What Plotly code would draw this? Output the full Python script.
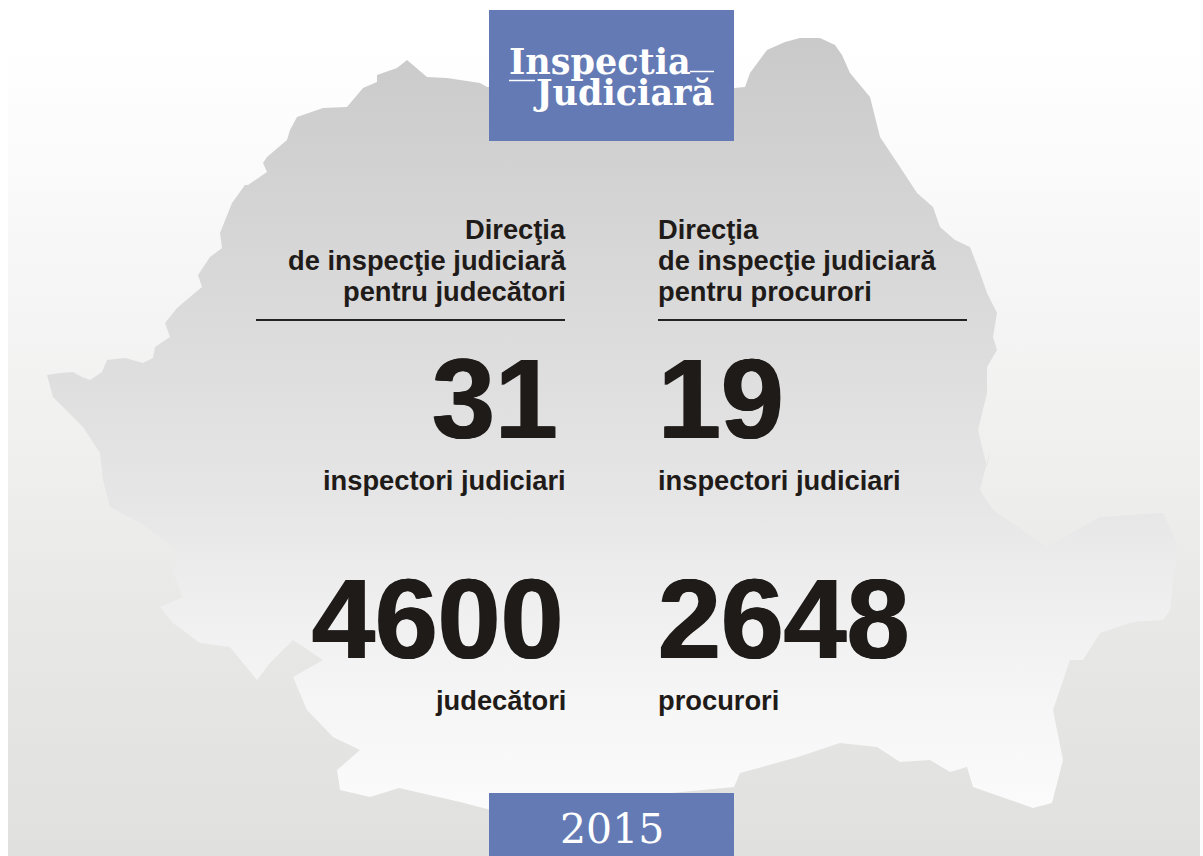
import plotly.graph_objects as go

W, H = 1203, 856

# Values and labels
left_title = ["Direcţia", "de inspecţie judiciară", "pentru judecători"]
right_title = ["Direcţia", "de inspecţie judiciară", "pentru procurori"]
inspector_values = ["31", "19"]
staff_values = ["4600", "2648"]
inspector_label = "inspectori judiciari"
staff_labels = ["judecători", "procurori"]
logo_lines = ["Inspectia", "Judiciară"]
year = "2015"

# Silhouette outline (clockwise from the western tip)
map_x = [47, 60, 73, 82, 90, 102, 107, 125, 143, 153, 155, 170, 165, 177, 190, 202, 198, 210, 222, 220, 232, 245,
         248, 267, 263, 267, 287, 290, 297, 317, 323, 347, 363, 377, 377, 397, 407, 427, 447, 480, 487,
         734, 745, 750, 767, 785, 800, 820, 835, 842, 850, 870, 877, 880, 900, 917, 933, 940, 955, 970, 980, 987, 997, 993, 997, 987, 987,
         978, 987, 990, 980, 993, 1047, 1100, 1163, 1177, 1170, 1163, 1133, 1100, 1083, 1070, 1053, 1057, 1063, 1052,
         1033, 973, 967, 950, 930, 900, 877, 840, 798, 740, 734,
         491, 460, 399, 370, 340, 337, 360, 333, 307, 293, 323, 293, 270, 257, 243, 230, 200, 173, 160, 183, 173, 177,
         140, 110, 103, 100, 83, 53]
map_y = [375, 373, 372, 377, 380, 372, 360, 358, 363, 358, 347, 337, 323, 308, 297, 287, 275, 257, 248, 233, 203, 185,
         185, 172, 163, 157, 140, 130, 117, 110, 108, 107, 88, 82, 75, 68, 60, 77, 78, 83, 87,
         88, 87, 73, 50, 42, 38, 38, 45, 55, 73, 97, 125, 137, 167, 193, 207, 227, 240, 247, 273, 293, 313, 337, 350, 367, 393,
         430, 467, 450, 490, 510, 547, 517, 513, 543, 610, 620, 622, 633, 660, 660, 710, 730, 760, 803,
         808, 787, 767, 772, 760, 762, 747, 743, 757, 773, 787,
         810, 802, 788, 797, 790, 770, 750, 737, 710, 677, 660, 640, 663, 680, 663, 647, 643, 623, 607, 597, 573, 550,
         523, 507, 480, 453, 427, 397]

bg_x = [8, 1200, 1200, 8, 8]
bg_y = [0, 0, 856, 856, 0]

INK = "#1f1b19"
BLUE = "#637ab5"
SANS = "Liberation Sans"
HEAVY = f"0.9px 0 0 {INK}, -0.9px 0 0 {INK}"

fig = go.Figure()
fig.add_trace(go.Scatter(
    x=bg_x, y=bg_y, mode="lines", line=dict(width=0), fill="toself", hoverinfo="skip",
    fillgradient=dict(type="vertical", start=0, stop=856, colorscale=[
        [0, "#ffffff"], [0.05, "#ffffff"], [0.18, "#fbfbfb"], [0.35, "#f5f5f5"], [0.55, "#efefee"], [0.72, "#e8e8e7"], [1, "#e0e0de"]])))
fig.add_trace(go.Scatter(
    x=map_x + map_x[:1], y=map_y + map_y[:1], mode="lines", line=dict(width=0), fill="toself", hoverinfo="skip",
    fillgradient=dict(type="vertical", start=40, stop=810, colorscale=[
        [0, "#cacaca"], [0.3, "#d8d8d8"], [0.6, "#e6e6e6"], [0.75, "#f0f0f0"], [0.87, "#f6f6f6"], [1, "#fbfbfb"]])))

shapes = [
    dict(type="rect", x0=489, x1=734, y0=10, y1=141, fillcolor=BLUE, line_width=0),
    dict(type="rect", x0=489, x1=734, y0=793, y1=856, fillcolor=BLUE, line_width=0),
    dict(type="line", x0=256, x1=565, y0=320, y1=320, line=dict(color="#222", width=2)),
    dict(type="line", x0=658, x1=967, y0=320, y1=320, line=dict(color="#222", width=2)),
    dict(type="line", x0=690, x1=714, y0=71.5, y1=71.5, line=dict(color="white", width=1.5)),
    dict(type="line", x0=509, x1=535, y0=80.5, y1=80.5, line=dict(color="white", width=1.5)),
]

def label(text, x, y, size, anchor, family=SANS, color=INK, bold=True, shadow=None):
    font = dict(family=family, size=size, color=color)
    if shadow:
        font["shadow"] = shadow
    fig.add_annotation(x=x, y=y, text=f"<b>{text}</b>" if bold else text, showarrow=False,
                       xanchor=anchor, yanchor="middle", borderpad=0, borderwidth=0, font=font)

BODY = 27.3
for i, (a, b) in enumerate(zip(left_title, right_title)):
    y = 229 + 31 * i
    label(a, 566, y, BODY, "right")
    label(b, 658, y, BODY, "left")

label(inspector_values[0], 558, 399, 113, "right", shadow=HEAVY)
label(inspector_values[1], 658, 399, 113, "left", shadow=HEAVY)
label(inspector_label, 566, 480, BODY, "right")
label(inspector_label, 658, 480, BODY, "left")
label(staff_values[0], 563, 619, 113, "right", shadow=HEAVY)
label(staff_values[1], 658, 619, 113, "left", shadow=HEAVY)
label(staff_labels[0], 566, 700, BODY, "right")
label(staff_labels[1], 658, 700, BODY, "left")

label(logo_lines[0], 509, 61, 35, "left", family="DejaVu Serif", color="white")
label(logo_lines[1], 714, 92, 35, "right", family="DejaVu Serif", color="white")
label(year, 612, 829, 41, "center", family="DejaVu Serif", color="white", bold=False)

fig.update_layout(
    width=W, height=H, margin=dict(l=0, r=0, t=0, b=0), showlegend=False,
    paper_bgcolor="white", plot_bgcolor="white", shapes=shapes,
    xaxis=dict(range=[0, W], visible=False, fixedrange=True),
    yaxis=dict(range=[H, 0], visible=False, fixedrange=True),
)
fig.write_html("out.html", config=dict(displayModeBar=False),
               post_script="document.body.style.margin='0';document.body.style.overflow='hidden';")
